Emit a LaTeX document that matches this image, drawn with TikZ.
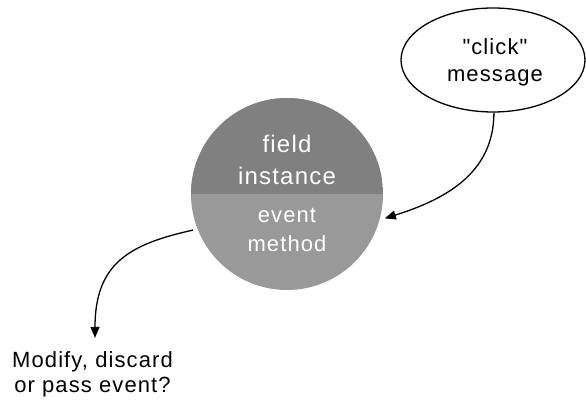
\documentclass[tikz,border=0pt]{standalone}
\usepackage{fontspec}
% plain family: no TeX ligature mapping, so " stays a straight quote
\newfontfamily\lblfont{Liberation Sans}[LetterSpace=5.0]
\usetikzlibrary{arrows.meta,shapes.geometric}

\definecolor{instdark}{gray}{0.5}
\definecolor{instlight}{gray}{0.6}

\begin{document}
\begin{tikzpicture}[x=1pt,y=1pt,
  line/.style={anchor=base,inner sep=0pt},
  bigline/.style={line,font=\lblfont\fontsize{24}{28}\selectfont,text=white},
  smallline/.style={line,font=\lblfont\fontsize{22}{26}\selectfont,text=white},
  blackline/.style={line,font=\lblfont\fontsize{22}{26}\selectfont,text=black},
  flow/.style={line width=1.3pt,-{Triangle[length=11pt,width=9pt]}}]
\useasboundingbox (0,0) rectangle (586,401);

% the field instance: dark upper half, light lower half
\node[circle,minimum size=192pt,inner sep=0pt,outer sep=4.8pt,
      fill=instlight,
      path picture={\fill[instdark] (path picture bounding box.west)
        rectangle (path picture bounding box.north east);}]
  (inst) at (287,207) {};
\node[bigline]   (field)  at (287,248) {field};
\node[bigline]   (instl)  at (287,216) {instance};
\node[smallline] (event)  at (287,178) {event};
\node[smallline] (method) at (287,149) {method};

% incoming message
\node[ellipse,draw,line width=1.3pt,minimum width=184pt,minimum height=104pt,
      inner sep=0pt] (msg) at (493,341) {};
\node[blackline] (click) at (495,346) {"click"};
\node[blackline] (msgl)  at (495,319) {message};

% outcome
\node[blackline] (mod)  at (92.5,33) {Modify, discard};
\node[blackline] (pass) at (92.5,8)  {or pass event?};

% connectors
\draw[flow] (msg.-89) .. controls (494,225) and (440,200) .. (inst.-14);
\draw[flow] (inst.201) .. controls (130,157) and (95,138) .. ([yshift=14pt]mod.north -| 95,0);
\end{tikzpicture}
\end{document}
